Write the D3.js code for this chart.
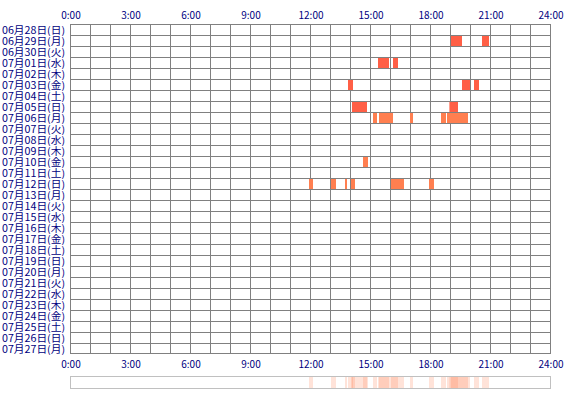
<!DOCTYPE html>
<html>
<head>
<meta charset="utf-8">
<script src="https://cdn.jsdelivr.net/npm/d3@7"></script>
<style>
  body { margin: 0; background: #fff; }
  svg text { font-family: "Noto Sans CJK JP", sans-serif; }
</style>
</head>
<body>
<svg id="chart" width="570" height="400"></svg>
<script>
// Day rows (top to bottom)
var days = ["06月28日(日)", "06月29日(月)", "06月30日(火)", "07月01日(水)", "07月02日(木)",
  "07月03日(金)", "07月04日(土)", "07月05日(日)", "07月06日(月)", "07月07日(火)",
  "07月08日(水)", "07月09日(木)", "07月10日(金)", "07月11日(土)", "07月12日(日)",
  "07月13日(月)", "07月14日(火)", "07月15日(水)", "07月16日(木)", "07月17日(金)",
  "07月18日(土)", "07月19日(日)", "07月20日(月)", "07月21日(火)", "07月22日(水)",
  "07月23日(木)", "07月24日(金)", "07月25日(土)", "07月26日(日)", "07月27日(月)"];

// Hour ticks
var hourTicks = [0, 3, 6, 9, 12, 15, 18, 21, 24];

// Activity blocks: [day, start hour, end hour, level]
var events = [
  ["06月29日(月)", 19.05, 19.6, 1],
  ["06月29日(月)", 20.6, 20.95, 1],
  ["07月01日(水)", 15.4, 15.95, 1],
  ["07月01日(水)", 16.15, 16.4, 1],
  ["07月03日(金)", 13.9, 14.15, 1],
  ["07月03日(金)", 19.6, 20.0, 1],
  ["07月03日(金)", 20.2, 20.45, 1],
  ["07月05日(日)", 14.1, 14.85, 1],
  ["07月05日(日)", 18.97, 19.4, 1],
  ["07月06日(月)", 15.15, 15.35, 2],
  ["07月06日(月)", 15.45, 16.15, 2],
  ["07月06日(月)", 17.0, 17.15, 2],
  ["07月06日(月)", 18.55, 18.8, 2],
  ["07月06日(月)", 18.85, 19.9, 2],
  ["07月10日(金)", 14.65, 14.9, 2],
  ["07月12日(日)", 11.95, 12.15, 2],
  ["07月12日(日)", 13.05, 13.3, 2],
  ["07月12日(日)", 13.75, 13.85, 2],
  ["07月12日(日)", 14.05, 14.25, 2],
  ["07月12日(日)", 16.05, 16.7, 2],
  ["07月12日(日)", 17.95, 18.2, 2]
];

var plotLeft = 70, plotRight = 550, plotTop = 24, rowH = 11;
var plotBottom = plotTop + rowH * days.length;

var svg = d3.select("#chart");

var x = d3.scaleLinear().domain([0, 24]).range([plotLeft, plotRight]);
var y = d3.scaleBand().domain(days).range([plotTop, plotBottom]);
var color = d3.scaleOrdinal().domain([1, 2]).range(["#ff5f46", "#ff7f50"]);

// vertical grid (under the blocks)
svg.append("g")
  .selectAll("line")
  .data(d3.range(0, 25))
  .enter().append("line")
  .attr("x1", function(d) { return x(d) + 0.5; })
  .attr("x2", function(d) { return x(d) + 0.5; })
  .attr("y1", plotTop)
  .attr("y2", plotBottom - 1)
  .attr("stroke", "#808080");

// blocks
svg.append("g")
  .selectAll("rect")
  .data(events)
  .enter().append("rect")
  .attr("x", function(d) { return x(d[1]); })
  .attr("y", function(d) { return y(d[0]); })
  .attr("width", function(d) { return x(d[2]) - x(d[1]); })
  .attr("height", rowH)
  .attr("fill", function(d) { return color(d[3]); });

// horizontal grid (over the blocks)
svg.append("g")
  .selectAll("line")
  .data(d3.range(0, days.length + 1))
  .enter().append("line")
  .attr("x1", plotLeft)
  .attr("x2", plotRight + 1)
  .attr("y1", function(i) { return Math.min(plotTop + i * rowH, plotBottom - 1) + 0.5; })
  .attr("y2", function(i) { return Math.min(plotTop + i * rowH, plotBottom - 1) + 0.5; })
  .attr("stroke", "#808080");

// day labels
svg.append("g")
  .selectAll("text")
  .data(days)
  .enter().append("text")
  .attr("x", plotLeft - 5)
  .attr("y", function(d) { return y(d) + rowH / 2 + 0.5; })
  .attr("dy", "0.35em")
  .attr("text-anchor", "end")
  .attr("font-size", "10px")
  .attr("textLength", 63)
  .attr("lengthAdjust", "spacingAndGlyphs")
  .attr("fill", "#000080")
  .text(function(d) { return d; });

// hour labels top & bottom
[15, 364].forEach(function(ty) {
  svg.append("g")
    .selectAll("text")
    .data(hourTicks)
    .enter().append("text")
    .attr("x", function(d) { return x(d) + 1; })
    .attr("y", ty)
    .attr("dy", "0.35em")
    .attr("text-anchor", "middle")
    .attr("font-size", "10px")
    .attr("fill", "#000080")
    .text(function(d) { return d + ":00"; });
});

// summary strip
var strip = svg.append("g");
strip.selectAll("rect")
  .data(events)
  .enter().append("rect")
  .attr("x", function(d) { return x(d[1]); })
  .attr("y", 377)
  .attr("width", function(d) { return x(d[2]) - x(d[1]); })
  .attr("height", 11)
  .attr("fill", "#ff7f50")
  .attr("fill-opacity", 0.22);
strip.append("rect")
  .attr("x", plotLeft + 0.5)
  .attr("y", 376.5)
  .attr("width", plotRight - plotLeft)
  .attr("height", 12)
  .attr("fill", "none")
  .attr("stroke", "#c0c0c0");
</script>
</body>
</html>
